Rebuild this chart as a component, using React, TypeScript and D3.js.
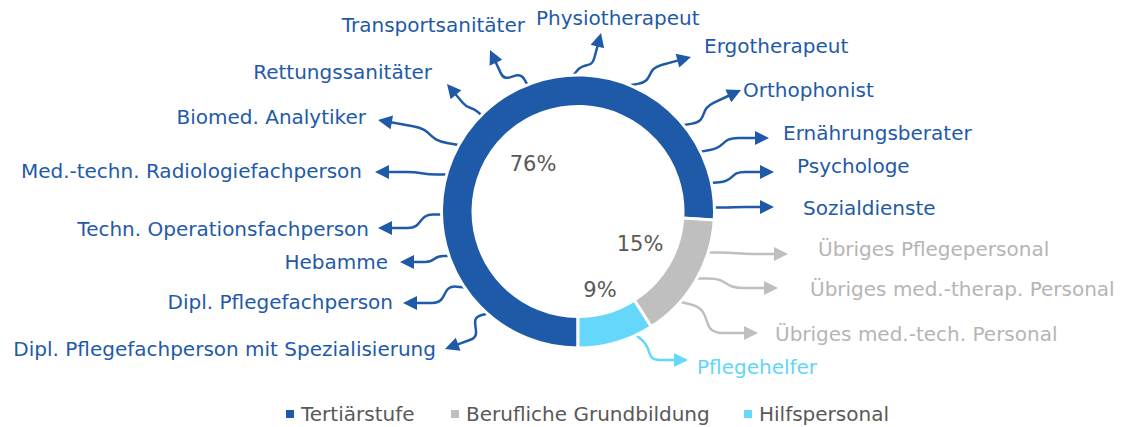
import React from "react";
import * as d3 from "d3";

// --- data ---
const groups = ["Tertiärstufe", "Berufliche Grundbildung", "Hilfspersonal"];
const shares = [76, 15, 9];
const professions = [
  "Transportsanitäter",
  "Physiotherapeut",
  "Ergotherapeut",
  "Orthophonist",
  "Ernährungsberater",
  "Psychologe",
  "Sozialdienste",
  "Übriges Pflegepersonal",
  "Übriges med.-therap. Personal",
  "Übriges med.-tech. Personal",
  "Pflegehelfer",
  "Dipl. Pflegefachperson mit Spezialisierung",
  "Dipl. Pflegefachperson",
  "Hebamme",
  "Techn. Operationsfachperson",
  "Med.-techn. Radiologiefachperson",
  "Biomed. Analytiker",
  "Rettungssanitäter",
];
const professionGroup = [0, 0, 0, 0, 0, 0, 0, 1, 1, 1, 2, 0, 0, 0, 0, 0, 0, 0];

// callout layout: ring angle (deg clockwise from top), start direction, arrow tip, tip direction (deg, screen), label anchor
const callouts = [
  { a: -21.7, sd: -120, tx: 490, ty: 50, dir: -115, lx: 525, ly: 25, side: "end" },
  { a: -2.3, sd: -50, tx: 601, ty: 33, dir: -75, lx: 536, ly: 18, side: "start" },
  { a: 21.7, sd: -10, tx: 691, ty: 57, dir: -15, lx: 704, ly: 46, side: "start" },
  { a: 50.5, sd: -10, tx: 741, ty: 90, dir: -25, lx: 743, ly: 90, side: "start" },
  { a: 63.9, sd: -10, tx: 769, ty: 138, dir: 0, lx: 783, ly: 133, side: "start" },
  { a: 77.9, sd: -5, tx: 774, ty: 172, dir: 0, lx: 797, ly: 166, side: "start" },
  { a: 88.3, sd: 0, tx: 774, ty: 207, dir: 0, lx: 803, ly: 208, side: "start" },
  { a: 107.6, sd: 0, tx: 788, ty: 254, dir: 0, lx: 818, ly: 249, side: "start" },
  { a: 119.6, sd: 0, tx: 778, ty: 288, dir: 0, lx: 810, ly: 289, side: "start" },
  { a: 131.6, sd: 15, tx: 758, ty: 333, dir: 0, lx: 775, ly: 334, side: "start" },
  { a: 155, sd: 40, tx: 688, ty: 360, dir: 0, lx: 697, ly: 367, side: "start" },
  { a: 221.3, sd: 165, tx: 445, ty: 349, dir: 160, lx: 436, ly: 349, side: "end" },
  { a: 235.9, sd: 185, tx: 403, ty: 303, dir: 180, lx: 393, ly: 302, side: "end" },
  { a: 250.8, sd: 180, tx: 400, ty: 262, dir: 180, lx: 388, ly: 262, side: "end" },
  { a: 268.7, sd: 180, tx: 378, ty: 228, dir: 180, lx: 369, ly: 229, side: "end" },
  { a: 285.8, sd: 180, tx: 375, ty: 172, dir: 180, lx: 362, ly: 171, side: "end" },
  { a: 299.3, sd: 190, tx: 378, ty: 120, dir: 190, lx: 366, ly: 117, side: "end" },
  { a: 315, sd: -140, tx: 447, ty: 84, dir: -130, lx: 432, ly: 72, side: "end" },
];

const W = 1124;
const H = 427;
const cx = 578;
const cy = 211.5;
const rOuter = 136.5;
const rInner = 105;
const font = "'DejaVu Sans', sans-serif";
const fontSize = 20;

const color = d3.scaleOrdinal<number, string>().domain([0, 1, 2]).range(["#1f5aa8", "#bfbfbf", "#64d7fb"]);
const textColor = d3.scaleOrdinal<number, string>().domain([0, 1, 2]).range(["#1f5aa8", "#b5b5b5", "#5fd5fa"]);

const pctPos = [
  [533, 164],
  [640, 244],
  [600, 290],
];
const legendX = [286, 451, 744];

const rad = (deg: number) => (deg * Math.PI) / 180;

function calloutPath(c: (typeof callouts)[number]) {
  const a = rad(c.a);
  const sx = cx + (rOuter - 1) * Math.sin(a);
  const sy = cy - (rOuter - 1) * Math.cos(a);
  const ux = Math.cos(rad(c.dir));
  const uy = Math.sin(rad(c.dir));
  const vx = Math.cos(rad(c.sd));
  const vy = Math.sin(rad(c.sd));
  const head = 14;
  const ex = c.tx - ux * head;
  const ey = c.ty - uy * head;
  const L = Math.hypot(ex - sx, ey - sy);
  // straight lead, S-step, straight tail
  const p1x = sx + vx * L * 0.18;
  const p1y = sy + vy * L * 0.18;
  const p2x = ex - ux * L * 0.3;
  const p2y = ey - uy * L * 0.3;
  const k = Math.hypot(p2x - p1x, p2y - p1y) * 0.55;
  const p = d3.path();
  p.moveTo(sx, sy);
  p.lineTo(p1x, p1y);
  p.bezierCurveTo(p1x + vx * k, p1y + vy * k, p2x - ux * k, p2y - uy * k, p2x, p2y);
  p.lineTo(ex + ux, ey + uy);
  const px = -uy * 7;
  const py = ux * 7;
  const headPts = [
    [c.tx, c.ty],
    [ex + px, ey + py],
    [ex - px, ey - py],
  ];
  return { line: p.toString(), head: headPts.map((q) => q.join(",")).join(" ") };
}

export default function App() {
  const pie = d3
    .pie<number>()
    .sort(null)
    .startAngle(Math.PI)
    .endAngle(3 * Math.PI);
  const arcs = pie(shares);
  const arc = d3.arc<d3.PieArcDatum<number>>().innerRadius(rInner).outerRadius(rOuter);

  return (
    <svg width={W} height={H} style={{ position: "absolute", left: 0, top: 0, background: "#fff" }} fontFamily={font}>
      {callouts.map((c, i) => {
        const g = professionGroup[i];
        const p = calloutPath(c);
        return (
          <g key={i}>
            <path d={p.line} fill="none" stroke={color(g)} strokeWidth={2.5} strokeLinejoin="round" />
            <polygon points={p.head} fill={color(g)} />
            <text x={c.lx} y={c.ly} dy="0.35em" textAnchor={c.side} fontSize={fontSize} fill={textColor(g)}>
              {professions[i]}
            </text>
          </g>
        );
      })}
      <g transform={`translate(${cx},${cy})`}>
        {arcs.map((d, i) => (
          <path key={i} d={arc(d) || ""} fill={color(i)} stroke="#fff" strokeWidth={3} />
        ))}
      </g>
      {arcs.map((d, i) => (
        <text key={i} x={pctPos[i][0]} y={pctPos[i][1]} dy="0.35em" textAnchor="middle" fontSize={21} fill="#595959">
          {`${d.data}%`}
        </text>
      ))}
      {groups.map((name, i) => (
        <g key={name} transform={`translate(${legendX[i]},414)`}>
          <rect x={0} y={-4} width={8} height={8} fill={color(i)} />
          <text x={15} y={0} dy="0.35em" fontSize={20} fill="#595959">
            {name}
          </text>
        </g>
      ))}
    </svg>
  );
}
